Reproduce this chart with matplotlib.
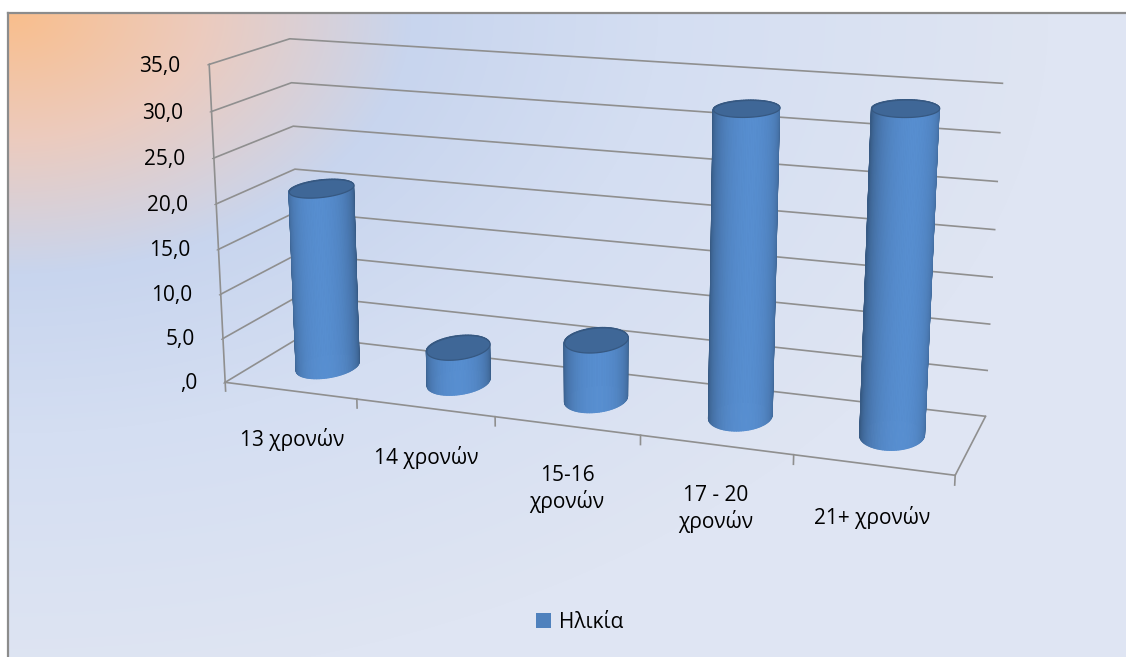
import numpy as np
import matplotlib
matplotlib.use("Agg")
import matplotlib.pyplot as plt
from matplotlib.patches import Patch
from matplotlib.lines import Line2D
from matplotlib.text import Text
from mpl_toolkits.mplot3d.art3d import Poly3DCollection

# ---- data ----
categories = ["13 χρονών", "14 χρονών", "15-16\nχρονών", "17 - 20\nχρονών", "21+ χρονών"]
values = [20.4, 4.0, 6.6, 32.5, 33.6]
z_ticks = [0, 5, 10, 15, 20, 25, 30, 35]
series_name = "Ηλικία"

W, H, DPI = 1126, 657, 100
plt.rcParams['font.family'] = ['Open Sans', 'DejaVu Sans']
FS = 15

fig = plt.figure(figsize=(W / DPI, H / DPI), dpi=DPI)
fig.patch.set_facecolor('white')

# ---- chart-area background: warm corner fading into pale blue ----
fx0, fy0 = 8, 13
bg = fig.add_axes([fx0 / W, 0, 1 - fx0 / W, 1 - fy0 / H], zorder=-5)
gy, gx = np.mgrid[0:H - fy0, 0:W - fx0]
dist = np.sqrt((gx / 650.0) ** 2 + (gy / 420.0) ** 2)
stops = [0.0, 0.3, 0.62, 1.0, 1.6]
stop_cols = np.array([(249, 190, 140), (236, 203, 190), (200, 213, 238),
                      (212, 222, 242), (223, 229, 243)]) / 255.0
img = np.stack([np.interp(dist, stops, stop_cols[:, k]) for k in range(3)], axis=-1)
bg.imshow(img, aspect='auto', interpolation='bilinear')
bg.set_axis_off()

frame_col = '#8c8c8c'
fig.add_artist(Line2D([fx0 / W, 1], [1 - fy0 / H] * 2, transform=fig.transFigure,
                      color=frame_col, lw=1.6))
fig.add_artist(Line2D([fx0 / W] * 2, [0, 1 - fy0 / H], transform=fig.transFigure,
                      color=frame_col, lw=1.6))

# ---- 3D axes ----
elev, azim = 15, -70
ax = fig.add_axes([0.152, -0.012, 0.735, 1.26], projection='3d')
ax.set_facecolor((0, 0, 0, 0))
ax.patch.set_alpha(0)
ax.computed_zorder = False
ax.view_init(elev=elev, azim=azim)
ax.set_proj_type('persp', focal_length=0.45)

n = len(categories)
depth = 1.1
zmax = 35
ax.set_xlim(-0.5, n - 0.5)
ax.set_ylim(0, depth)
ax.set_zlim(0, zmax)
ax.set_box_aspect((n, depth, 2.2))

grid_col = '#8f8f8f'
for axis in (ax.xaxis, ax.yaxis, ax.zaxis):
    axis.set_pane_color((1, 1, 1, 0))
    axis.pane.set_edgecolor((0, 0, 0, 0))
    axis.line.set_color(grid_col)
    axis.line.set_linewidth(1.2)
    axis.label.set_visible(False)
    axis.offsetText.set_visible(False)
ax.zaxis.pane.set_edgecolor(grid_col)
ax.zaxis.pane.set_linewidth(1.2)

ax.set_xticks([])
ax.set_yticks([])
ax.set_zticks(z_ticks)
ax.set_zticklabels([("%.1f" % t).replace('.', ',').lstrip('0') if t == 0 else
                    ("%.1f" % t).replace('.', ',') for t in z_ticks],
                   ha='right', va='center_baseline')
ax.zaxis.set_ticks_position('lower')
ax.zaxis.set_label_position('lower')
ax.grid(True)
ax.zaxis._axinfo['grid'].update(color=grid_col, linewidth=1.2, linestyle='-')
ax.zaxis.set_tick_params(colors=grid_col, labelcolor='black', labelsize=FS, pad=4)

# tick marks between categories on the front floor edge
for b in np.arange(-0.5, n, 1.0):
    ax.plot([b, b], [0, 0], [0, -1.0], color=grid_col, lw=1.2)

# ---- cylinders ----
base = np.array([79, 129, 189]) / 255.0
theta = np.linspace(0, 2 * np.pi, 121)
mid = 0.5 * (theta[:-1] + theta[1:])
light = np.radians(azim + 10)
ndotl = np.clip(np.cos(mid - light), 0, 1)
side_cols = np.clip(base[None, :] * (0.70 + 0.40 * ndotl[:, None] ** 0.9), 0, 1)
rx, ry = 0.20, 0.28
yc = depth / 2
z = 1
for i, v in enumerate(values):
    xs = i + rx * np.cos(theta)
    ys = yc + ry * np.sin(theta)
    quads = [[(xs[j], ys[j], 0), (xs[j + 1], ys[j + 1], 0),
              (xs[j + 1], ys[j + 1], v), (xs[j], ys[j], v)] for j in range(len(mid))]
    side = Poly3DCollection(quads, facecolors=side_cols, edgecolors=side_cols,
                            linewidths=0.7, zorder=z)
    ax.add_collection3d(side)
    top = list(zip(xs, ys, np.full_like(theta, v)))
    cap = Poly3DCollection([top], facecolor=base * 0.8, edgecolor=base * 0.68,
                           linewidth=0.9, zorder=z + 1)
    ax.add_collection3d(cap)
    z += 2

# category labels under the front floor edge
for i, lab in enumerate(categories):
    ax.text(i, 0, -4.3, lab, ha='center', va='top', fontsize=FS, zorder=50)

fig.legend(handles=[Patch(facecolor='#4F81BD')], labels=[series_name],
           loc='center', bbox_to_anchor=(0.515, 1 - 622 / H), frameon=False,
           handlelength=0.7, handleheight=0.7, handletextpad=0.4, fontsize=FS)

# hide empty placeholder texts (titles, offsets) so nothing stray is laid out
for t in fig.findobj(Text):
    if t.get_text() == '':
        t.set_visible(False)

fig.savefig('out.png', dpi=DPI)
